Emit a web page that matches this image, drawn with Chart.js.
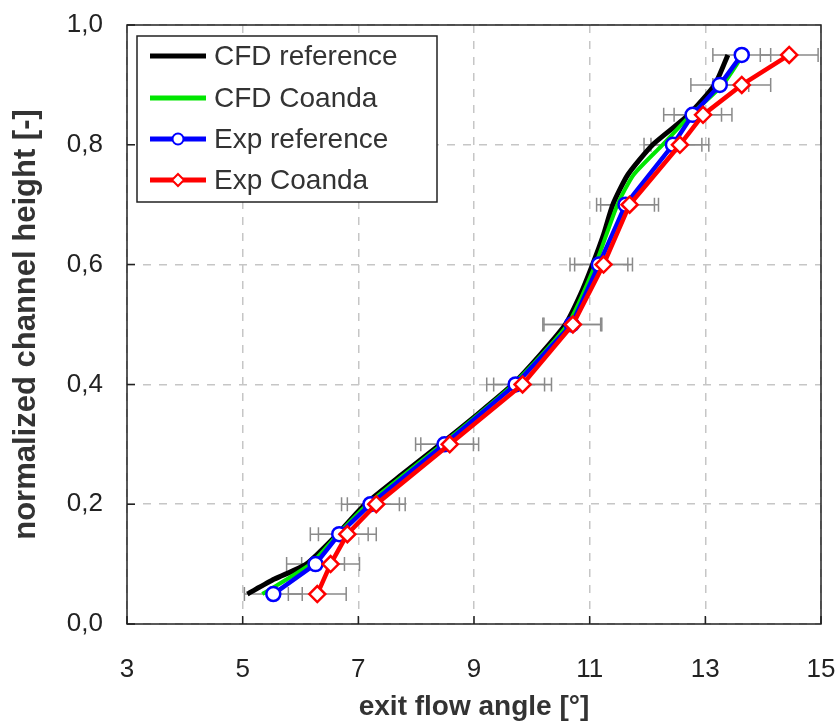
<!DOCTYPE html>
<html>
<head>
<meta charset="utf-8">
<script src="https://cdn.jsdelivr.net/npm/chart.js@4.4.1/dist/chart.umd.min.js"></script>
<style>
  html, body { margin: 0; padding: 0; background: #fff; }
</style>
</head>
<body>
<canvas id="chart" width="840" height="727"></canvas>
<script>
// ================= DATA =================
// experiment: channel height vs exit flow angle
const expHeights = [0.05, 0.10, 0.15, 0.20, 0.30, 0.40, 0.50, 0.60, 0.70, 0.80, 0.85, 0.90, 0.95];
const expRefAngle = [5.53, 6.26, 6.67, 7.21, 8.49, 9.72, 10.69, 11.16, 11.62, 12.44, 12.78, 13.25, 13.63];
const expCoandaAngle = [6.29, 6.52, 6.81, 7.31, 8.58, 9.84, 10.71, 11.24, 11.69, 12.56, 12.96, 13.63, 14.45];
const expErr = [0.5, 0.5, 0.5, 0.5, 0.5, 0.5, 0.5, 0.5, 0.5, 0.5, 0.5, 0.5, 0.5];

// CFD curves
const cfdRefHeights = [0.05, 0.075, 0.10, 0.15, 0.20, 0.25, 0.30, 0.35, 0.40, 0.45, 0.50, 0.55, 0.60, 0.65, 0.70, 0.75, 0.80, 0.85, 0.90, 0.95];
const cfdRefAngle = [5.08, 5.55, 6.10, 6.64, 7.12, 7.76, 8.42, 9.06, 9.67, 10.15, 10.58, 10.84, 11.05, 11.24, 11.40, 11.66, 12.09, 12.71, 13.16, 13.39];
const cfdCoandaHeights = [0.05, 0.10, 0.15, 0.20, 0.30, 0.40, 0.50, 0.60, 0.70, 0.75, 0.80, 0.85, 0.90, 0.95];
const cfdCoandaAngle = [5.34, 6.17, 6.65, 7.16, 8.45, 9.68, 10.62, 11.10, 11.48, 11.76, 12.26, 12.75, 13.30, 13.65];

// ticks
const xTicks = [3, 5, 7, 9, 11, 13, 15];
const yTicks = [0, 0.2, 0.4, 0.6, 0.8, 1.0];

const seriesNames = ["CFD reference", "CFD Coanda", "Exp reference", "Exp Coanda"];

function toPoints(xs, ys) {
    return xs.map((x, i) => ({ x: x, y: ys[i] }));
}

const FONT = "'Liberation Sans', Arial, Helvetica, sans-serif";

// ================= PLUGIN (error bars, frame, legend) =================
const overlay = {
    id: 'overlay',
    beforeDatasetsDraw(chart) {
        const ctx = chart.ctx;
        const xs = chart.scales.x, ys = chart.scales.y;
        ctx.save();
        ctx.strokeStyle = '#8a8a8a';
        ctx.lineWidth = 1.5;
        [expRefAngle, expCoandaAngle].forEach(angles => {
            angles.forEach((a, i) => {
                const y = ys.getPixelForValue(expHeights[i]);
                const x1 = xs.getPixelForValue(a - expErr[i]);
                const x2 = xs.getPixelForValue(a + expErr[i]);
                ctx.beginPath();
                ctx.moveTo(x1, y); ctx.lineTo(x2, y);
                ctx.moveTo(x1, y - 7); ctx.lineTo(x1, y + 7);
                ctx.moveTo(x2, y - 7); ctx.lineTo(x2, y + 7);
                ctx.stroke();
            });
        });
        ctx.restore();
    },
    afterDraw(chart) {
        const ctx = chart.ctx;
        const a = chart.chartArea;
        const xs = chart.scales.x, ys = chart.scales.y;
        ctx.save();
        // inner ticks
        ctx.strokeStyle = '#222';
        ctx.lineWidth = 1.5;
        ctx.beginPath();
        xTicks.forEach(v => {
            const x = xs.getPixelForValue(v);
            ctx.moveTo(x, a.bottom); ctx.lineTo(x, a.bottom - 8);
        });
        yTicks.forEach(v => {
            const y = ys.getPixelForValue(v);
            ctx.moveTo(a.left, y); ctx.lineTo(a.left + 8, y);
        });
        ctx.stroke();
        // frame
        ctx.lineWidth = 1.5;
        ctx.strokeRect(a.left, a.top, a.right - a.left, a.bottom - a.top);

        // legend
        const bx = 137, by = 36, bw = 300, bh = 166;
        ctx.fillStyle = '#fff';
        ctx.fillRect(bx, by, bw, bh);
        ctx.strokeStyle = '#222';
        ctx.lineWidth = 1.5;
        ctx.strokeRect(bx, by, bw, bh);
        const rows = [56, 98, 139, 180];
        ctx.font = "28px " + FONT;
        ctx.textBaseline = 'middle';
        chart.data.datasets.forEach((ds, i) => {
            const y = rows[i];
            ctx.strokeStyle = ds.borderColor;
            ctx.lineWidth = 5;
            ctx.beginPath();
            ctx.moveTo(150, y); ctx.lineTo(206, y);
            ctx.stroke();
            if (ds.pointRadius > 0) {
                ctx.fillStyle = '#fff';
                ctx.lineWidth = 2;
                ctx.beginPath();
                if (ds.pointStyle === 'rectRot') {
                    const r = 6;
                    ctx.moveTo(178, y - r); ctx.lineTo(178 + r, y);
                    ctx.lineTo(178, y + r); ctx.lineTo(178 - r, y);
                    ctx.closePath();
                } else {
                    ctx.arc(178, y, 5.5, 0, Math.PI * 2);
                }
                ctx.fill();
                ctx.stroke();
            }
            ctx.fillStyle = '#333';
            ctx.fillText(seriesNames[i], 214, y + 1);
        });
        ctx.restore();
    }
};

// ================= CHART =================
const ctx = document.getElementById("chart").getContext('2d');
new Chart(ctx, {
    type: 'line',
    data: {
        datasets: [
            {
                label: seriesNames[0],
                data: toPoints(cfdRefAngle, cfdRefHeights),
                borderColor: '#000000',
                borderWidth: 5,
                pointRadius: 0,
                tension: 0.2,
                order: 4
            },
            {
                label: seriesNames[1],
                data: toPoints(cfdCoandaAngle, cfdCoandaHeights),
                borderColor: '#00e600',
                borderWidth: 4,
                pointRadius: 0,
                tension: 0.2,
                order: 3
            },
            {
                label: seriesNames[2],
                data: toPoints(expRefAngle, expHeights),
                borderColor: '#0000ff',
                borderWidth: 4.5,
                pointStyle: 'circle',
                pointRadius: 7,
                pointBorderWidth: 2.5,
                pointBackgroundColor: '#ffffff',
                pointBorderColor: '#0000ff',
                tension: 0,
                order: 2
            },
            {
                label: seriesNames[3],
                data: toPoints(expCoandaAngle, expHeights),
                borderColor: '#ff0000',
                borderWidth: 4.5,
                pointStyle: 'rectRot',
                pointRadius: 8,
                pointBorderWidth: 2.5,
                pointBackgroundColor: '#ffffff',
                pointBorderColor: '#ff0000',
                tension: 0,
                order: 1
            }
        ]
    },
    options: {
        responsive: false,
        animation: false,
        devicePixelRatio: 1,
        layout: { padding: { top: 25, right: 19, left: 0, bottom: 0 } },
        plugins: {
            legend: { display: false },
            tooltip: { enabled: false }
        },
        scales: {
            x: {
                type: 'linear',
                min: 3, max: 15,
                afterBuildTicks: s => { s.ticks = xTicks.map(v => ({ value: v })); },
                afterFit: s => { s.height = 103; s.paddingLeft = 0; s.paddingRight = 0; },
                grid: { color: '#c6c6c6', lineWidth: 1.5, drawTicks: false },
                border: { display: false, dash: [8, 8] },
                ticks: {
                    padding: 30,
                    color: '#222',
                    font: { family: FONT, size: 26 },
                    callback: v => String(v)
                },
                title: {
                    display: true,
                    text: 'exit flow angle [°]',
                    color: '#333',
                    font: { family: FONT, size: 28, weight: 'bold' },
                    padding: { top: 0, bottom: 3 }
                }
            },
            y: {
                type: 'linear',
                min: 0, max: 1,
                afterBuildTicks: s => { s.ticks = yTicks.map(v => ({ value: v })); },
                afterFit: s => { s.width = 127; s.paddingTop = 0; s.paddingBottom = 0; },
                grid: { color: '#c6c6c6', lineWidth: 1.5, drawTicks: false },
                border: { display: false, dash: [8, 8] },
                ticks: {
                    padding: 24,
                    color: '#222',
                    font: { family: FONT, size: 26 },
                    callback: v => Number(v).toFixed(1).replace('.', ',')
                },
                title: {
                    display: true,
                    text: 'normalized channel height [-]',
                    color: '#333',
                    font: { family: FONT, size: 31, weight: 'bold' },
                    padding: { top: 8, bottom: 0 }
                }
            }
        }
    },
    plugins: [overlay]
});
</script>
</body>
</html>
